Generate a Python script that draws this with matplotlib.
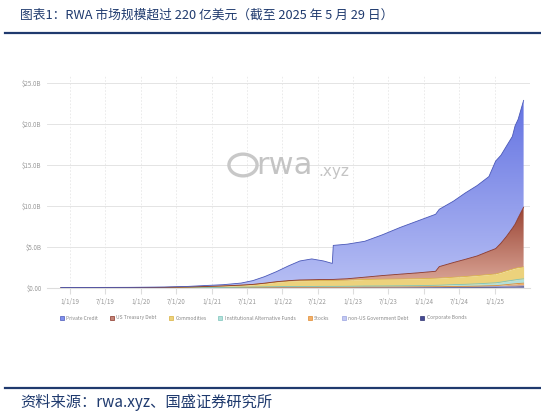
import matplotlib
matplotlib.use("Agg")
import matplotlib.pyplot as plt
import matplotlib.dates as mdates
from matplotlib.lines import Line2D
from matplotlib.patches import Patch, Circle
from matplotlib.colors import LinearSegmentedColormap
import numpy as np
import pandas as pd

plt.rcParams['font.family'] = ['Noto Sans CJK SC', 'DejaVu Sans']

# sample dates (irregular, denser around the jumps)
dates = ["2018-11-15", "2019-05-01", "2019-11-01", "2020-05-01", "2020-09-01",
         "2020-12-01", "2021-03-01", "2021-06-01", "2021-08-01", "2021-10-01",
         "2021-12-01", "2022-02-01", "2022-04-01", "2022-06-01", "2022-08-01",
         "2022-09-15", "2022-09-20", "2022-12-01", "2023-03-01", "2023-06-01",
         "2023-09-01", "2023-12-01", "2024-03-01", "2024-03-20", "2024-06-01",
         "2024-08-01", "2024-10-01", "2024-12-01", "2025-01-05", "2025-02-01",
         "2025-03-01", "2025-04-01", "2025-04-15", "2025-05-01", "2025-05-29"]

# values in $B
corporate_bonds = [0.005, 0.005, 0.01, 0.01, 0.02, 0.02, 0.03, 0.03, 0.04, 0.04,
                   0.05, 0.05, 0.05, 0.05, 0.05, 0.05, 0.05, 0.05, 0.06, 0.06,
                   0.06, 0.06, 0.07, 0.07, 0.08, 0.08, 0.09, 0.10, 0.10, 0.11,
                   0.12, 0.13, 0.13, 0.14, 0.15]
non_us_gov_debt = [0, 0, 0, 0, 0, 0.005, 0.005, 0.01, 0.01, 0.01,
                   0.01, 0.02, 0.02, 0.02, 0.02, 0.02, 0.02, 0.02, 0.03, 0.03,
                   0.03, 0.04, 0.04, 0.04, 0.05, 0.05, 0.06, 0.07, 0.07, 0.08,
                   0.09, 0.10, 0.10, 0.11, 0.12]
stocks = [0, 0, 0, 0, 0.005, 0.01, 0.02, 0.03, 0.03, 0.04,
          0.04, 0.04, 0.03, 0.03, 0.03, 0.03, 0.03, 0.03, 0.03, 0.03,
          0.04, 0.04, 0.05, 0.05, 0.06, 0.07, 0.08, 0.10, 0.12, 0.15,
          0.20, 0.25, 0.28, 0.30, 0.32]
alt_funds = [0, 0, 0, 0, 0, 0.01, 0.02, 0.03, 0.04, 0.05,
             0.06, 0.07, 0.08, 0.09, 0.10, 0.10, 0.10, 0.11, 0.12, 0.13,
             0.14, 0.15, 0.17, 0.18, 0.22, 0.25, 0.28, 0.32, 0.34, 0.38,
             0.42, 0.46, 0.48, 0.50, 0.52]
commodities = [0.02, 0.03, 0.03, 0.06, 0.09, 0.12, 0.16, 0.22, 0.28, 0.40,
               0.55, 0.65, 0.72, 0.72, 0.72, 0.72, 0.72, 0.74, 0.80, 0.82,
               0.82, 0.84, 0.86, 0.87, 0.90, 0.95, 1.00, 1.05, 1.08, 1.15,
               1.25, 1.35, 1.40, 1.42, 1.45]
us_treasury = [0.005, 0.005, 0.01, 0.01, 0.01, 0.02, 0.02, 0.03, 0.04, 0.05,
               0.06, 0.07, 0.08, 0.10, 0.12, 0.13, 0.13, 0.18, 0.28, 0.45,
               0.60, 0.72, 0.85, 1.40, 1.80, 2.10, 2.40, 2.85, 3.10, 3.60,
               4.20, 5.00, 5.40, 6.10, 7.30]
private_credit = [0.02, 0.03, 0.03, 0.04, 0.07, 0.12, 0.15, 0.25, 0.46, 0.80,
                  1.23, 1.80, 2.32, 2.54, 2.26, 1.95, 4.15, 4.22, 4.38, 4.98,
                  5.71, 6.35, 6.96, 7.00, 7.49, 8.10, 8.59, 9.11, 10.69, 10.73,
                  11.02, 11.21, 12.00, 12.03, 13.04]

tick_dates = ["2019-01-01", "2019-07-01", "2020-01-01", "2020-07-01", "2021-01-01",
              "2021-07-01", "2022-01-01", "2022-07-01", "2023-01-01", "2023-07-01",
              "2024-01-01", "2024-07-01", "2025-01-01"]
tick_labels = ["1/1/19", "7/1/19", "1/1/20", "7/1/20", "1/1/21", "7/1/21", "1/1/22",
               "7/1/22", "1/1/23", "7/1/23", "1/1/24", "7/1/24", "1/1/25"]
y_ticks = [0, 5, 10, 15, 20, 25]
y_labels = ["$0.00", "$5.0B", "$10.0B", "$15.0B", "$20.0B", "$25.0B"]

names = ["Private Credit", "US Treasury Debt", "Commodities", "Institutional Alternative Funds",
         "Stocks", "non-US Government Debt", "Corporate Bonds"]
fills = ["#8090ee", "#c48478", "#ecd27c", "#b3e0da", "#f2b06a", "#c3c9f2", "#464b94"]
edges = ["#4a58b8", "#8a3426", "#d9b040", "#7cc4bc", "#e08a30", "#9aa3e0", "#2e3270"]
# gradient (top colour, bottom colour) for the two big layers
grads = {"Private Credit": ("#6473e2", "#b7bff4"),
         "US Treasury Debt": ("#9a4434", "#deab9c")}

x = pd.to_datetime(dates)
xn = mdates.date2num(x)

fig = plt.figure(figsize=(5.41, 4.18), dpi=100)
ax = fig.add_axes([47 / 541, 1 - 288 / 418, 483 / 541, 213 / 418])

series = [corporate_bonds, non_us_gov_debt, stocks, alt_funds, commodities, us_treasury, private_credit]
base = [0.0] * len(dates)
for vals, name, fc, ec in zip(series, names[::-1], fills[::-1], edges[::-1]):
    top = [b + v for b, v in zip(base, vals)]
    if name in grads:
        poly = ax.fill_between(xn, base, top, color="none", lw=0, zorder=2)
        cmap = LinearSegmentedColormap.from_list(name, [grads[name][1], grads[name][0]])
        hi = max(top)
        img = ax.imshow(np.linspace(0, 1, 256).reshape(-1, 1), cmap=cmap, origin="lower",
                        aspect="auto", extent=[xn[0], xn[-1], 0, hi], zorder=2)
        img.set_clip_path(poly.get_paths()[0], transform=ax.transData)
    else:
        ax.fill_between(xn, base, top, color=fc, lw=0, zorder=2)
    ax.plot(xn, top, color=ec, lw=0.6, zorder=3)
    base = top

ax.set_xlim(mdates.date2num(pd.Timestamp("2018-09-04")), mdates.date2num(pd.Timestamp("2025-07-01")))
ax.set_ylim(0, 26)
ax.set_xticks(mdates.date2num(pd.to_datetime(tick_dates)))
ax.set_xticklabels(tick_labels, fontsize=4.5, color="#999999")
ax.set_yticks(y_ticks)
ax.set_yticklabels(y_labels, fontsize=4.5, color="#999999")
ax.tick_params(axis="x", length=4, color="#dddddd", pad=3)
ax.tick_params(axis="y", length=0, pad=4)
ax.grid(axis="y", color="#e4e4e4", lw=0.7, zorder=0)
ax.grid(axis="x", color="#e8e8e8", lw=0.6, ls=(0, (2, 2)), zorder=0)
for s in ["top", "right", "left"]:
    ax.spines[s].set_visible(False)
ax.spines["bottom"].set_color("#dddddd")

# rwa.xyz watermark
logo = Circle((243 / 541, 1 - 165 / 418), 0.026, transform=fig.transFigure,
              fill=False, ec="#c8c8c8", lw=2.4, zorder=5)
fig.patches.append(logo)
fig.text(256 / 541, 1 - 166 / 418, "rwa", fontsize=22, color="#c4c4c4",
         ha="left", va="center", family="DejaVu Sans")
fig.text(318 / 541, 1 - 171 / 418, ".xyz", fontsize=11, color="#c4c4c4",
         ha="left", va="center", family="DejaVu Sans")

handles = [Patch(facecolor=f, edgecolor=e, lw=0.5) for f, e in zip(fills, edges)]
fig.legend(handles, names, loc="center left", bbox_to_anchor=(55 / 541, 1 - 318 / 418),
           ncol=7, fontsize=3.6, frameon=False, handlelength=0.8, handleheight=0.8,
           columnspacing=2.4, handletextpad=0.5, labelcolor="#888888")

navy = "#1f3a6e"
fig.text(20 / 541, 1 - 15 / 418, "图表1：RWA 市场规模超过 220 亿美元（截至 2025 年 5 月 29 日）",
         fontsize=9.2, color=navy, ha="left", va="center")
fig.add_artist(Line2D([5 / 541, 1], [1 - 33 / 418] * 2, color=navy, lw=1.6,
                      transform=fig.transFigure))
fig.add_artist(Line2D([5 / 541, 1], [1 - 388 / 418] * 2, color=navy, lw=1.6,
                      transform=fig.transFigure))
fig.text(20 / 541, 1 - 402 / 418, "资料来源：rwa.xyz、国盛证券研究所",
         fontsize=11, color=navy, ha="left", va="center")

fig.savefig("out.png", dpi=100)
